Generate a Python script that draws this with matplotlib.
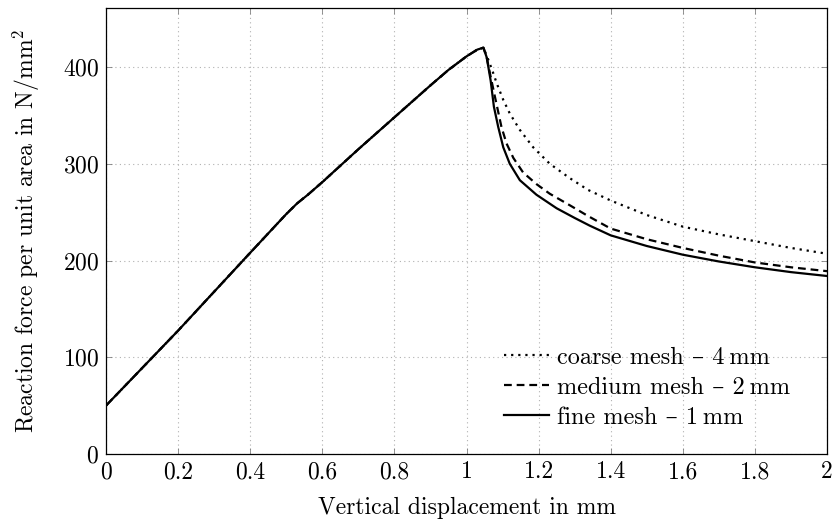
import matplotlib
matplotlib.use("Agg")
import matplotlib.pyplot as plt

plt.rcParams['font.family'] = ['cmr10', 'DejaVu Serif']
plt.rcParams['mathtext.fontset'] = 'cm'
plt.rcParams['axes.unicode_minus'] = False
plt.rcParams['axes.formatter.use_mathtext'] = True

# Shared loading branch
x_up = [0.0, 0.2, 0.4, 0.46, 0.5, 0.53, 0.56, 0.6, 0.7, 0.8, 0.9, 0.95, 1.0, 1.03, 1.047]
y_up = [50, 127.5, 208, 232, 248, 259, 268, 281, 315, 348, 381, 397, 411, 418, 420]

# Softening branches
x_coarse = [1.047, 1.06, 1.072, 1.084, 1.102, 1.12, 1.148, 1.185, 1.231, 1.287, 1.337,
            1.4, 1.5, 1.6, 1.7, 1.8, 1.9, 2.0]
y_coarse = [420, 408, 396, 383, 366, 352, 335, 317, 300, 285, 273,
            262, 247, 235, 227, 220, 213, 207]

x_medium = [1.047, 1.056, 1.067, 1.079, 1.097, 1.111, 1.13, 1.157, 1.194, 1.231, 1.287,
            1.337, 1.4, 1.5, 1.6, 1.7, 1.8, 1.9, 2.0]
y_medium = [420, 410, 390, 369, 338, 321, 306, 291, 279, 269, 257,
            246, 233, 222, 213, 205, 198, 193, 189]

x_fine = [1.047, 1.056, 1.067, 1.076, 1.088, 1.102, 1.12, 1.148, 1.194, 1.25, 1.3,
          1.342, 1.4, 1.5, 1.6, 1.7, 1.8, 1.9, 2.0]
y_fine = [420, 410, 386, 359, 338, 317, 300, 283, 268, 254, 244,
          236, 226, 215, 206, 199, 193, 188, 184]

labels = ['coarse mesh – 4\u2009mm', 'medium mesh – 2\u2009mm', 'fine mesh – 1\u2009mm']
xtick_vals = [0, 0.2, 0.4, 0.6, 0.8, 1.0, 1.2, 1.4, 1.6, 1.8, 2.0]
xtick_labels = ['0', '0.2', '0.4', '0.6', '0.8', '1', '1.2', '1.4', '1.6', '1.8', '2']
ytick_vals = [0, 100, 200, 300, 400]

fig = plt.figure(figsize=(8.34, 5.2), dpi=100)
ax = fig.add_axes([106/834, 66/520, 721/834, 446/520])

ax.plot(x_up + x_coarse[1:], y_up + y_coarse[1:], color='black', lw=1.6,
        linestyle=(0, (1, 2.2)), label=labels[0])
ax.plot(x_up + x_medium[1:], y_up + y_medium[1:], color='black', lw=1.6,
        linestyle=(0, (3.5, 2.2)), label=labels[1])
ax.plot(x_up + x_fine[1:], y_up + y_fine[1:], color='black', lw=1.6,
        linestyle='-', label=labels[2])

ax.set_xlim(0, 2)
ax.set_ylim(0, 461)
ax.set_xticks(xtick_vals)
ax.set_xticklabels(xtick_labels)
ax.set_yticks(ytick_vals)
ax.grid(True, color='#b0b0b0', linestyle=(0, (1, 3)), lw=0.8)
ax.tick_params(direction='in', length=4, width=0.6, color='#808080',
               top=True, right=True, labelsize=17, pad=5)
for s in ax.spines.values():
    s.set_linewidth(0.9)

ax.set_xlabel('Vertical displacement in mm', fontsize=17, labelpad=10)
ax.set_ylabel('Reaction force per unit area in N/mm$^2$', fontsize=17, labelpad=15)

leg = ax.legend(loc='lower right', bbox_to_anchor=(0.972, 0.018), frameon=False,
                fontsize=17.5, handlelength=1.85, handletextpad=0.3, labelspacing=0.33,
                borderpad=0.2)

fig.savefig('out.png', dpi=100)
